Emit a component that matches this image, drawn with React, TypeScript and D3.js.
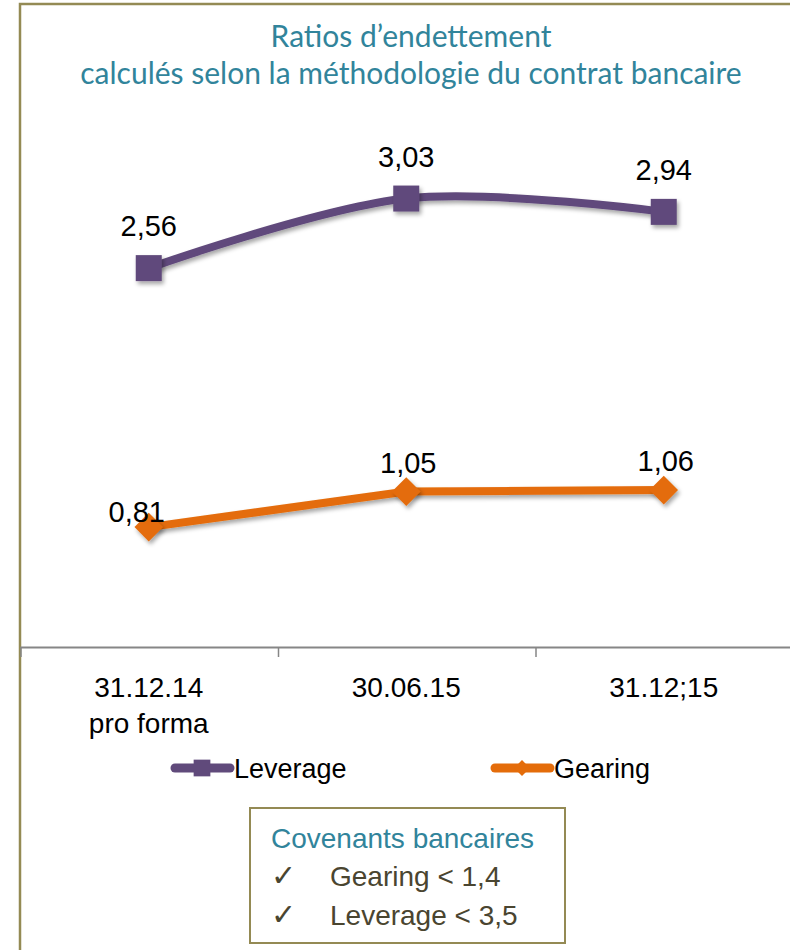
import React, { useEffect, useRef } from 'react'
import * as d3 from 'd3'

const categories = ['31.12.14|pro forma', '30.06.15', '31.12;15']
const leverage = [2.56, 3.03, 2.94]
const gearing = [0.81, 1.05, 1.06]
const leverageLabels = ['2,56', '3,03', '2,94']
const gearingLabels = ['0,81', '1,05', '1,06']
const titleLines = ['Ratios d\u2019endettement', 'calculés selon la méthodologie du contrat bancaire']
const seriesNames = ['Leverage', 'Gearing']
const covenantTitle = 'Covenants bancaires'
const covenants = ['Gearing < 1,4', 'Leverage < 3,5']

const W = 790
const H = 950
const PURPLE = '#604a7b'
const ORANGE = '#e46c0a'
const TEAL = '#31849b'
const OLIVE = '#948a54'
const LABEL_FONT = '"Liberation Sans Narrow", "Liberation Sans", sans-serif'
const TITLE_FONT = 'Lato, "Open Sans", sans-serif'

export default function App() {
    const ref = useRef<SVGSVGElement | null>(null)

    useEffect(() => {
        const svg = d3.select(ref.current)
        svg.selectAll('*').remove()

        const defs = svg.append('defs')
        const f = defs.append('filter').attr('id', 'shadow').attr('x', '-50%').attr('y', '-50%').attr('width', '200%').attr('height', '200%')
        f.append('feDropShadow').attr('dx', 2).attr('dy', 3).attr('stdDeviation', 2).attr('flood-color', '#000').attr('flood-opacity', 0.35)

        svg.append('rect').attr('width', W).attr('height', H).attr('fill', '#fff')

        // outer frame (only top and left visible)
        svg.append('path')
            .attr('d', `M20,${H} L20,4 L${W},4`)
            .attr('fill', 'none')
            .attr('stroke', OLIVE)
            .attr('stroke-width', 2.5)

        // title
        svg.append('g').selectAll('text')
            .data(titleLines)
            .enter()
            .append('text')
            .attr('x', 411)
            .attr('y', (d, i) => 47 + i * 37)
            .attr('text-anchor', 'middle')
            .attr('fill', TEAL)
            .attr('font-family', TITLE_FONT)
            .attr('font-size', 30)
            .text(d => d)

        const x = d3.scaleBand<string>().domain(categories).range([20, 792.5])
        const y = d3.scaleLinear().domain([0, 3.5]).range([647, 129])
        const cx = (i: number) => (x(categories[i]) as number) + x.bandwidth() / 2

        // axis
        const axis = svg.append('g')
            .attr('transform', 'translate(0,647)')
            .call(d3.axisBottom(x).tickSize(0).tickFormat(() => ''))
        axis.select('.domain').attr('stroke', '#868686').attr('stroke-width', 2)
        axis.selectAll('.tick').remove()
        const edges = categories.map(c => x(c) as number)
        axis.selectAll('line.tk')
            .data(edges)
            .enter()
            .append('line')
            .attr('class', 'tk')
            .attr('x1', d => d + 1)
            .attr('x2', d => d + 1)
            .attr('y1', 0)
            .attr('y2', 10)
            .attr('stroke', '#868686')
            .attr('stroke-width', 1.5)

        const catText = axis.selectAll('text.cat')
            .data(categories)
            .enter()
            .append('text')
            .attr('class', 'cat')
            .attr('text-anchor', 'middle')
            .attr('font-family', LABEL_FONT)
            .attr('font-size', 28)
            .attr('fill', '#000')
        catText.selectAll('tspan')
            .data((d, i) => d.split('|').map(s => ({ s, i })))
            .enter()
            .append('tspan')
            .attr('x', d => cx(d.i))
            .attr('y', (d, j) => 50 + j * 36)
            .text(d => d.s)

        const idx = categories.map((_, i) => i)

        // leverage
        const levLine = d3.line<number>()
            .x(i => cx(i))
            .y(i => y(leverage[i]))
            .curve(d3.curveCatmullRom.alpha(0.5))
        svg.append('path')
            .attr('d', levLine(idx))
            .attr('fill', 'none')
            .attr('stroke', PURPLE)
            .attr('stroke-width', 8)
            .attr('stroke-linecap', 'round')
            .attr('filter', 'url(#shadow)')
        svg.append('g').selectAll('rect')
            .data(idx)
            .enter()
            .append('rect')
            .attr('x', i => cx(i) - 13)
            .attr('y', i => y(leverage[i]) - 13)
            .attr('width', 26)
            .attr('height', 26)
            .attr('fill', PURPLE)
            .attr('filter', 'url(#shadow)')

        // gearing
        const gearLine = d3.line<number>()
            .x(i => cx(i))
            .y(i => y(gearing[i]))
        svg.append('path')
            .attr('d', gearLine(idx))
            .attr('fill', 'none')
            .attr('stroke', ORANGE)
            .attr('stroke-width', 8)
            .attr('stroke-linecap', 'round')
            .attr('filter', 'url(#shadow)')
        const diamond = d3.symbol().type(d3.symbolDiamond2).size(520)
        svg.append('g').selectAll('path')
            .data(idx)
            .enter()
            .append('path')
            .attr('transform', i => `translate(${cx(i)},${y(gearing[i])})`)
            .attr('d', diamond())
            .attr('fill', ORANGE)
            .attr('filter', 'url(#shadow)')

        // data labels
        svg.append('g').selectAll('text')
            .data(idx)
            .enter()
            .append('text')
            .attr('x', i => cx(i))
            .attr('y', i => y(leverage[i]) - 32)
            .attr('text-anchor', 'middle')
            .attr('font-family', LABEL_FONT)
            .attr('font-size', 29)
            .text(i => leverageLabels[i])
        svg.append('g').selectAll('text')
            .data(idx)
            .enter()
            .append('text')
            .attr('x', i => cx(i) + (i === 0 ? -12 : 2))
            .attr('y', i => y(gearing[i]) - (i === 0 ? 5 : 19))
            .attr('text-anchor', 'middle')
            .attr('font-family', LABEL_FONT)
            .attr('font-size', 29)
            .text(i => gearingLabels[i])

        // legend
        const legendX = [172, 492]
        const leg = svg.append('g').selectAll('g')
            .data(seriesNames)
            .enter()
            .append('g')
            .attr('transform', (d, i) => `translate(${legendX[i]},768)`)
        leg.append('line')
            .attr('x1', 3).attr('x2', 58).attr('y1', 0).attr('y2', 0)
            .attr('stroke', (d, i) => (i === 0 ? PURPLE : ORANGE))
            .attr('stroke-width', 9)
            .attr('stroke-linecap', 'round')
        leg.append('path')
            .attr('transform', 'translate(30,0)')
            .attr('d', (d, i) => d3.symbol().type(i === 0 ? d3.symbolSquare : d3.symbolDiamond2).size(i === 0 ? 280 : 160)())
            .attr('fill', (d, i) => (i === 0 ? PURPLE : ORANGE))
        leg.append('text')
            .attr('x', 62)
            .attr('y', 10)
            .attr('font-family', LABEL_FONT)
            .attr('font-size', 27)
            .text(d => d)

        // covenants box
        const box = svg.append('g').attr('transform', 'translate(250,808)')
        box.append('rect')
            .attr('width', 315)
            .attr('height', 135)
            .attr('fill', '#fff')
            .attr('stroke', OLIVE)
            .attr('stroke-width', 2)
        box.append('text')
            .attr('x', 21)
            .attr('y', 40)
            .attr('fill', TEAL)
            .attr('font-family', LABEL_FONT)
            .attr('font-size', 28)
            .text(covenantTitle)
        const rows = box.selectAll('g.row')
            .data(covenants)
            .enter()
            .append('g')
            .attr('class', 'row')
            .attr('transform', (d, i) => `translate(0,${78 + i * 39})`)
        rows.append('text')
            .attr('x', 21)
            .attr('y', 0)
            .attr('fill', '#4a4530')
            .attr('font-family', '"DejaVu Sans", sans-serif')
            .attr('font-size', 30)
            .text('\u2713')
        rows.append('text')
            .attr('x', 80)
            .attr('y', 0)
            .attr('fill', '#4a4530')
            .attr('font-family', LABEL_FONT)
            .attr('font-size', 28)
            .text(d => d)
    }, [])

    return <svg ref={ref} width={W} height={H} style={{ position: 'absolute', left: 0, top: 0 }} />
}
